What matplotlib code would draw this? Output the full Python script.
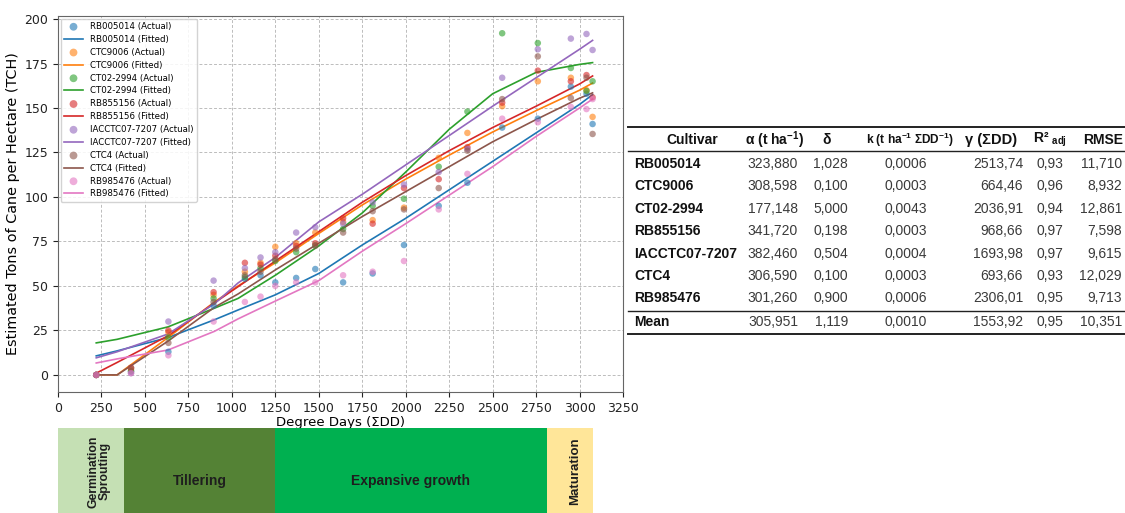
import matplotlib
matplotlib.use("Agg")
import matplotlib.pyplot as plt
from matplotlib.lines import Line2D

plt.rcParams["mathtext.fontset"] = "custom"
plt.rcParams["mathtext.rm"] = "Liberation Sans:bold"
plt.rcParams["mathtext.it"] = "Liberation Sans:bold"
plt.rcParams["mathtext.bf"] = "Liberation Sans:bold"

W, H = 1125, 513

# ---------------- data ----------------
cultivars = ["RB005014", "CTC9006", "CT02-2994", "RB855156",
             "IACCTC07-7207", "CTC4", "RB985476"]

sample_dd = [220, 420, 635, 895, 1075, 1165, 1250, 1370, 1480, 1640,
             1810, 1990, 2190, 2355, 2555, 2760, 2950, 3040, 3075]

tch_RB005014 = [0, 2, 13, 39, 54, 56, 52, 54.5, 59.5, 52, 57, 73, 95, 108, 139, 144, 162, 158, 141]
tch_CTC9006 = [0, 3, 24, 45, 58, 63, 72, 74, 80, 86, 87, 94, 122, 136, 151, 165, 167, 160, 145]
tch_CT022994 = [0, 2, 21, 43, 55, 60, 64, 69, 73, 82, 95, 99, 117, 148, 192, 186.5, 172.5, 159.6, 165]
tch_RB855156 = [0, 4, 25, 46.5, 63, 62, 67, 72.5, 74, 88, 85, 105, 110, 128, 153, 171, 165, 168.5, 156]
tch_IACCTC077207 = [0, 1, 30, 53, 60, 66, 69, 80, 83, 85, 97, 107, 114, 127, 167, 183, 189, 191.6, 182.6]
tch_CTC4 = [0, 4, 18, 41, 56, 58, 65, 71, 72.5, 80, 92, 93, 105, 126, 155, 179, 155.6, 167, 135.4]
tch_RB985476 = [0, 1, 11, 30, 41, 44, 50, 52, 52, 56, 58, 64, 93, 113, 144, 142, 150.6, 149.4, 155]

fit_dd = [220, 340, 633, 900, 1036, 1250, 1500, 1750, 2000, 2250, 2500, 2750, 3000, 3075]
fit_RB005014 = [10.7, 13.5, 21, 31, 36.5, 45, 57, 73, 88, 104, 120, 136, 152, 157.5]
fit_CTC9006 = [0, 0, 21, 41, 50, 63, 79.5, 95.5, 110, 123.5, 136.5, 148.5, 160, 164]
fit_CT022994 = [18, 20, 27, 37.5, 43, 56, 72.5, 91, 114, 138, 158, 170, 174.5, 175.5]
fit_RB855156 = [1, 7, 22, 40.5, 49.6, 64, 80.5, 97, 112, 126, 139, 151, 163.5, 168]
fit_IACCTC077207 = [9.6, 13, 23, 40, 51.7, 66, 86, 101.5, 118, 134.5, 151, 167, 183, 188]
fit_CTC4 = [0, 0, 19, 38, 45.5, 59, 74, 89, 103, 117, 131, 143.5, 155.5, 158.5]
fit_RB985476 = [6.7, 9, 14, 24.5, 31.5, 41.5, 53, 69.5, 85, 101, 117, 134, 150, 155]

actual_series = [tch_RB005014, tch_CTC9006, tch_CT022994, tch_RB855156,
                 tch_IACCTC077207, tch_CTC4, tch_RB985476]
fitted_series = [fit_RB005014, fit_CTC9006, fit_CT022994, fit_RB855156,
                 fit_IACCTC077207, fit_CTC4, fit_RB985476]

x_ticks = list(range(0, 3251, 250))
y_ticks = list(range(0, 201, 25))

# table values
par_alpha = [323.880, 308.598, 177.148, 341.720, 382.460, 306.590, 301.260]
par_delta = [1.028, 0.100, 5.000, 0.198, 0.504, 0.100, 0.900]
par_k = [0.0006, 0.0003, 0.0043, 0.0003, 0.0004, 0.0003, 0.0006]
par_gamma = [2513.74, 664.46, 2036.91, 968.66, 1693.98, 693.66, 2306.01]
par_r2 = [0.93, 0.96, 0.94, 0.97, 0.97, 0.93, 0.95]
par_rmse = [11.710, 8.932, 12.861, 7.598, 9.615, 12.029, 9.713]
mean_row = [305.951, 1.119, 0.0010, 1553.92, 0.95, 10.351]

# phases
phase_names = ["Germination\nSprouting", "Tillering", "Expansive growth", "Maturation"]
phase_edges = [0, 380, 1250, 2810, 3080]

# ---------------- figure ----------------
fig = plt.figure(figsize=(W / 100, H / 100), dpi=100)


def fx(px):
    return px / W


def fy(py):
    return 1 - py / H


ax = fig.add_axes([fx(58), fy(392), fx(623) - fx(58), fy(16) - fy(392)])
colors = plt.rcParams["axes.prop_cycle"].by_key()["color"]
for i, name in enumerate(cultivars):
    c = colors[i]
    ax.scatter(sample_dd, actual_series[i], s=22, color=c, alpha=0.6,
               edgecolors="none", label=f"{name} (Actual)", zorder=3)
    ax.plot(fit_dd, fitted_series[i], color=c, lw=1.2,
            label=f"{name} (Fitted)", zorder=2)

ax.set_xlim(0, 3250)
ax.set_ylim(-9.6, 201.7)
ax.set_xticks(x_ticks)
ax.set_yticks(y_ticks)
ax.tick_params(labelsize=9, colors="#222222")
ax.grid(True, linestyle=(0, (3, 2)), color="#bcbcbc", lw=0.7)
for sp in ax.spines.values():
    sp.set_color("#666666")
ax.set_xlabel("Degree Days (ΣDD)", fontsize=9.5, labelpad=1)
ax.set_ylabel("Estimated Tons of Cane per Hectare (TCH)", fontsize=10.4, labelpad=3)
ax.legend(loc="upper left", fontsize=6.2, labelspacing=0.45, markerscale=1.2,
          handlelength=2.2, borderaxespad=0.3, framealpha=0.85)

# ---------------- phase bar ----------------
bx = fig.add_axes([fx(58), fy(513), fx(623) - fx(58), fy(428) - fy(513)])
bx.set_xlim(0, 3250)
bx.set_ylim(0, 1)
bx.axis("off")
phase_colors = ["#c5e0b4", "#548235", "#00b050", "#ffe699"]
for i in range(4):
    bx.axvspan(phase_edges[i], phase_edges[i + 1], color=phase_colors[i], lw=0)
txt = dict(fontweight="bold", color="#1e1e1e",
           family="Liberation Sans", ha="center", va="center", clip_on=False)
bx.text(235, 0.49, phase_names[0], rotation=90, linespacing=0.95, fontsize=8.8, **txt)
bx.text((phase_edges[1] + phase_edges[2]) / 2, 0.38, phase_names[1], fontsize=10, **txt)
bx.text((phase_edges[2] + phase_edges[3]) / 2, 0.38, phase_names[2], fontsize=10, **txt)
bx.text(2975, 0.49, phase_names[3], rotation=90, fontsize=9.5, **txt)

# ---------------- table ----------------
tfont = "Liberation Sans"
hdr = dict(fontweight="bold", color="#111111", family=tfont,
           va="center", ha="center")
hy = fy(140)
fig.text(fx(692), hy, "Cultivar", fontsize=10, **hdr)
fig.text(fx(775), hy, "α (t ha$^{-1}$)", fontsize=10, **hdr)
fig.text(fx(827), hy, "δ", fontsize=10, **hdr)
fig.text(fx(910), hy, "k (t ha$^{-1}$ ΣDD$^{-1}$)", fontsize=8.6, **hdr)
fig.text(fx(991), hy, "γ (ΣDD)", fontsize=10.5, **hdr)
fig.text(fx(1050), hy, "R² $_{adj}$", fontsize=10, **hdr)
fig.text(fx(1103), hy, "RMSE", fontsize=10, **hdr)


def fmt(v, d):
    return f"{v:.{d}f}".replace(".", ",")


col_right = [798, 848, 927, 1023, 1063, 1122]
col_dec = [3, 3, 4, 2, 2, 3]
val = dict(fontsize=10, color="#3a3a3a", family=tfont, va="center", ha="right")
lab = dict(fontsize=10, fontweight="bold", color="#111111", family=tfont,
           va="center", ha="left")
cols = [par_alpha, par_delta, par_k, par_gamma, par_r2, par_rmse]
for r, name in enumerate(cultivars):
    y = fy(164 + r * 22.4)
    fig.text(fx(634), y, name, **lab)
    for c in range(6):
        fig.text(fx(col_right[c]), y, fmt(cols[c][r], col_dec[c]), **val)
ym = fy(322)
fig.text(fx(634), ym, "Mean", **lab)
for c in range(6):
    fig.text(fx(col_right[c]), ym, fmt(mean_row[c], col_dec[c]), **val)

for py, lw in [(127, 1.4), (151, 1.0), (311, 1.0), (334, 1.4)]:
    fig.add_artist(Line2D([fx(628), fx(1125)], [fy(py), fy(py)],
                          transform=fig.transFigure, color="#222222", lw=lw))

fig.savefig("out.png", dpi=100)
